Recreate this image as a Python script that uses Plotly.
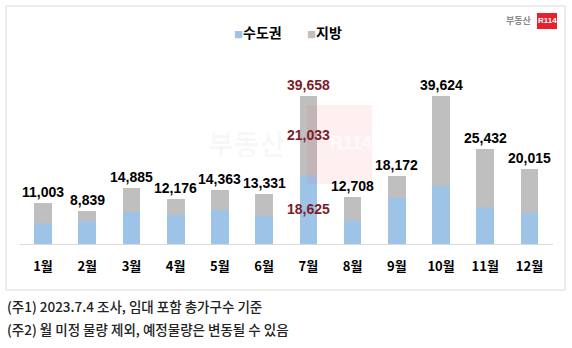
import plotly.graph_objects as go

# Monthly apartment move-in volume (households)
months = ["1월", "2월", "3월", "4월", "5월", "6월", "7월", "8월", "9월", "10월", "11월", "12월"]
totals = [11003, 8839, 14885, 12176, 14363, 13331, 39658, 12708, 18172, 39624, 25432, 20015]
capital = [5500, 6100, 8500, 7700, 9100, 7600, 18625, 6100, 12200, 15600, 9900, 8200]
regional = [t - c for t, c in zip(totals, capital)]

highlight_month = "7월"

W, H = 572, 348
BLUE = "#9DC3E6"
GRAY = "#BFBFBF"
MAROON = "#7A1E2A"
KFONT = "Noto Sans CJK KR"
NFONT = "Liberation Sans, Arial"


def px(x):
    return x / W


def py(y):
    return 1 - y / H


fig = go.Figure()
fig.add_trace(go.Bar(x=months, y=capital, name="수도권", marker=dict(color=BLUE, line=dict(width=0))))
fig.add_trace(go.Bar(x=months, y=regional, name="지방", marker=dict(color=GRAY, line=dict(width=0))))

annotations = []
for m, t, c, r in zip(months, totals, capital, regional):
    col = MAROON if m == highlight_month else "#000000"
    annotations.append(dict(
        x=m, y=t, xref="x", yref="y", text=f"{t:,}", showarrow=False,
        yanchor="bottom", yshift=1,
        font=dict(family=NFONT, size=14, color=col, weight="bold"),
    ))
    if m == highlight_month:
        annotations.append(dict(
            x=m, y=c + r / 2, xref="x", yref="y", text=f"{r:,}", showarrow=False,
            font=dict(family=NFONT, size=14, color=MAROON, weight="bold"),
        ))
        annotations.append(dict(
            x=m, y=c / 2, xref="x", yref="y", text=f"{c:,}", showarrow=False,
            font=dict(family=NFONT, size=14, color=MAROON, weight="bold"),
        ))

# legend
for x0, color, label in [(232, BLUE, "수도권"), (305, GRAY, "지방")]:
    annotations.append(dict(
        x=px(x0), y=py(32), xref="paper", yref="paper", xanchor="left", yanchor="middle",
        showarrow=False,
        text=f'<span style="color:{color};font-size:9px">■</span>{label}',
        font=dict(family=KFONT, size=14, color="#000000", weight="bold"),
    ))

# brand logo
annotations.append(dict(
    x=px(534), y=py(21), xref="paper", yref="paper", xanchor="right", yanchor="middle",
    showarrow=False, text="부동산",
    font=dict(family=KFONT, size=9, color="#8a8a8a", weight="bold"),
))
annotations.append(dict(
    x=px(547), y=py(21), xref="paper", yref="paper", xanchor="center", yanchor="middle",
    showarrow=False, text="R114",
    font=dict(family=NFONT, size=8, color="#ffffff", weight="bold"),
))

# faint watermark
annotations.append(dict(
    x=px(246), y=py(143), xref="paper", yref="paper", xanchor="center", yanchor="middle",
    showarrow=False, text="부동산",
    font=dict(family=KFONT, size=28, color="rgba(0,0,0,0.03)", weight="bold"),
))
annotations.append(dict(
    x=px(328), y=py(143), xref="paper", yref="paper", xanchor="left", yanchor="middle",
    showarrow=False, text="R114",
    font=dict(family=NFONT, size=18, color="rgba(255,255,255,0.7)", weight="bold"),
))

# footnotes
for yy, note in [(306, "(주1) 2023.7.4 조사, 임대 포함 총가구수 기준"),
                 (329, "(주2) 월 미정 물량 제외, 예정물량은 변동될 수 있음")]:
    annotations.append(dict(
        x=px(5), y=py(yy), xref="paper", yref="paper", xanchor="left", yanchor="middle",
        showarrow=False, text=note,
        font=dict(family=KFONT, size=13.5, color="#222222", weight=500),
    ))

shapes = [
    dict(type="rect", xref="paper", yref="paper", x0=px(6), x1=px(565), y0=py(6), y1=py(290),
         line=dict(color="#D9D9D9", width=1), fillcolor="rgba(0,0,0,0)", layer="below"),
    dict(type="rect", xref="paper", yref="paper", x0=px(537), x1=px(557), y0=py(13), y1=py(29),
         line=dict(width=0), fillcolor="#E8202C"),
    dict(type="rect", xref="paper", yref="paper", x0=px(307), x1=px(372), y0=py(105), y1=py(184),
         line=dict(width=0), fillcolor="rgba(240,70,80,0.08)", layer="above"),
]

fig.update_layout(
    width=W, height=H,
    margin=dict(l=0, r=0, t=0, b=0),
    paper_bgcolor="#ffffff", plot_bgcolor="#ffffff",
    barmode="stack", bargap=0.6,
    showlegend=False,
    annotations=annotations,
    shapes=shapes,
    xaxis=dict(
        domain=[px(20), px(553)],
        showgrid=False, zeroline=False,
        showline=True, linecolor="#D9D9D9", linewidth=1,
        ticks="", ticklabelstandoff=10,
        tickfont=dict(family=KFONT, size=13, color="#000000", weight="bold"),
        fixedrange=True,
    ),
    yaxis=dict(
        domain=[py(244), py(64)],
        range=[0, 48240],
        visible=False, showgrid=False, zeroline=False,
        fixedrange=True,
    ),
)

fig.write_html("out.html")
